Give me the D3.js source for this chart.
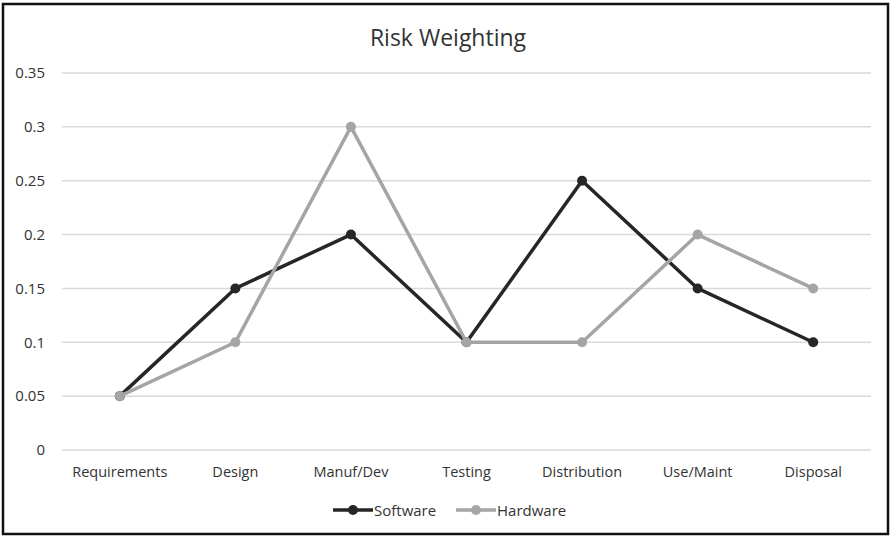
<!DOCTYPE html>
<html><head><meta charset="utf-8">
<script src="https://cdn.jsdelivr.net/npm/d3@7"></script>
<style>
html,body{margin:0;padding:0;background:#fff;}
svg text{font-family:"Open Sans","Noto Sans",sans-serif;fill:#333;}
</style></head>
<body>
<svg id="c" width="891" height="536"></svg>
<script>
const categories = ["Requirements","Design","Manuf/Dev","Testing","Distribution","Use/Maint","Disposal"];
const software = [0.05,0.15,0.2,0.1,0.25,0.15,0.1];
const hardware = [0.05,0.1,0.3,0.1,0.1,0.2,0.15];
const yTicks = [0,0.05,0.1,0.15,0.2,0.25,0.3,0.35];
const yTickLabels = ["0","0.05","0.1","0.15","0.2","0.25","0.3","0.35"];
const seriesNames = ["Software","Hardware"];
const seriesColors = ["#262626","#a5a5a5"];

(function(){
const svg = d3.select("#c");
const W = 891, H = 536;
const txt = "#333";
svg.append("rect").attr("x",3).attr("y",4).attr("width",W-6).attr("height",H-6)
  .attr("fill","#fff").attr("stroke","#111").attr("stroke-width",2.5);

const pL = 62, pR = 871, pT = 73, pB = 450;
const x = d3.scaleBand().domain(categories).range([pL,pR]);
const y = d3.scaleLinear().domain([0,0.35]).range([pB,pT]);

svg.append("g").selectAll("line").data(yTicks).join("line")
  .attr("x1",pL).attr("x2",pR)
  .attr("y1",d=>y(d)).attr("y2",d=>y(d))
  .attr("stroke","#d9d9d9").attr("stroke-width",1.5);

const ya = svg.append("g").attr("transform",`translate(${pL},0)`)
  .call(d3.axisLeft(y).tickValues(yTicks).tickFormat((d,i)=>yTickLabels[i]).tickSize(0).tickPadding(17));
ya.select(".domain").remove();
ya.selectAll("text").attr("font-size",15).attr("fill",txt)
  .style("font-family","'Open Sans','Noto Sans',sans-serif");

const xa = svg.append("g").attr("transform",`translate(0,${pB})`)
  .call(d3.axisBottom(x).tickSize(0).tickPadding(17));
xa.select(".domain").remove();
xa.selectAll("text").attr("font-size",14.5).attr("fill",txt)
  .style("font-family","'Open Sans','Noto Sans',sans-serif");

svg.append("text").attr("x",448).attr("y",46).attr("text-anchor","middle")
  .attr("font-size",23).attr("fill",txt).text("Risk Weighting");

const cx = d => x(d) + x.bandwidth()/2;
const data = [software, hardware];
data.forEach((vals,si)=>{
  const pts = vals.map((v,i)=>[cx(categories[i]), y(v)]);
  svg.append("path").attr("d",d3.line()(pts)).attr("fill","none")
    .attr("stroke",seriesColors[si]).attr("stroke-width",3.5).attr("stroke-linejoin","round");
  svg.append("g").selectAll("circle").data(pts).join("circle")
    .attr("cx",d=>d[0]).attr("cy",d=>d[1]).attr("r",5).attr("fill",seriesColors[si]);
});

const legX = [333, 456];
seriesNames.forEach((n,i)=>{
  const g = svg.append("g").attr("transform",`translate(${legX[i]},510)`);
  g.append("line").attr("x1",0).attr("x2",40).attr("y1",0).attr("y2",0)
    .attr("stroke",seriesColors[i]).attr("stroke-width",3.5);
  g.append("circle").attr("cx",20).attr("cy",0).attr("r",5).attr("fill",seriesColors[i]);
  g.append("text").attr("x",41).attr("y",5.5).attr("font-size",15).attr("fill",txt).text(n);
});
})();
</script>
</body></html>
